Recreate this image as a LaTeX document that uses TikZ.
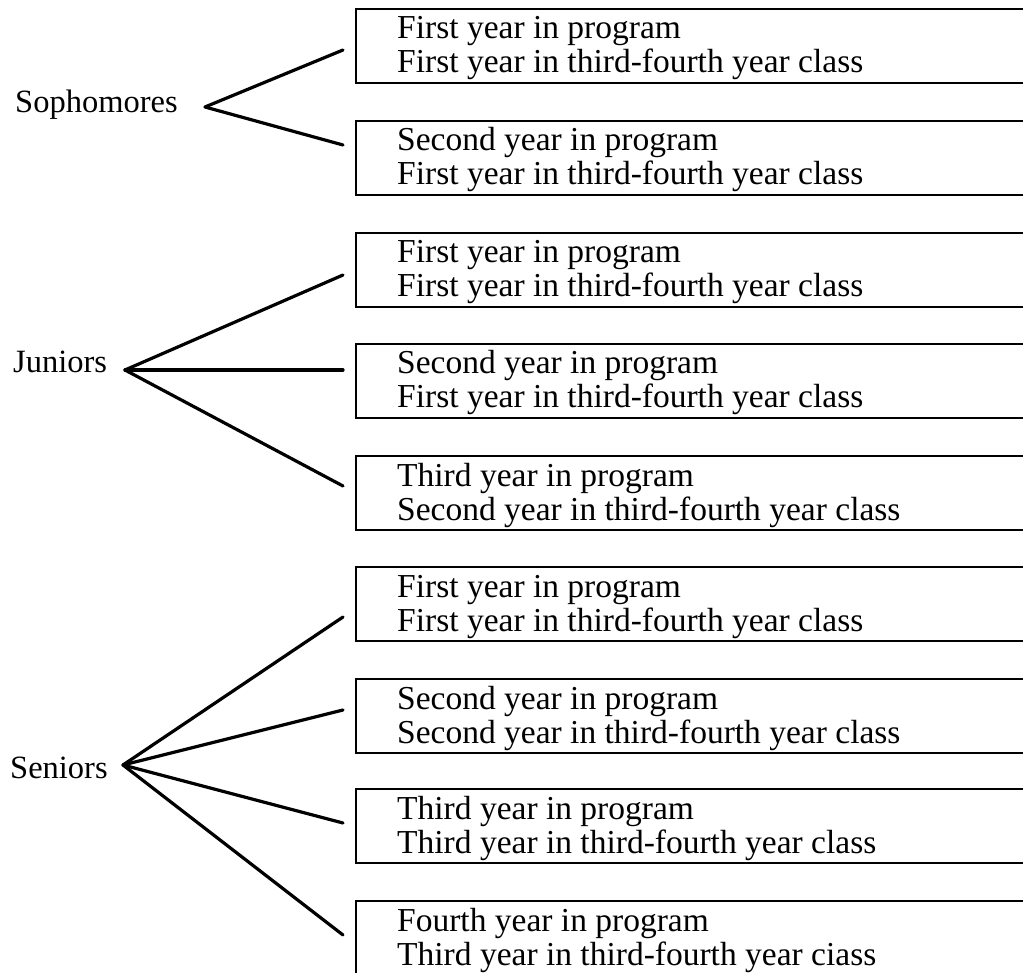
\documentclass[tikz,border=0pt]{standalone}
\usepackage{fontspec}
\setmainfont{Liberation Serif}
\usetikzlibrary{calc}

% two stacked lines, reference point on the first baseline
\newcommand\twolines[2]{\vtop{\baselineskip=34pt\hbox{#1}\hbox{#2}}}

\tikzset{
  yearbox/.style={draw, line width=1.8pt, anchor=north west, inner sep=0pt,
                  minimum width=720pt, minimum height=74pt},
  boxtext/.style={anchor=base west, inner sep=0pt},
  grouplabel/.style={anchor=base west, inner sep=0pt,
                     font=\fontsize{32.5}{34}\selectfont},
  fork/.style={line width=3.2pt, line cap=round, line join=round},
}

\begin{document}
\begin{tikzpicture}[x=1pt, y=-1pt, font=\fontsize{33.5}{34}\selectfont]
\useasboundingbox (0,0) rectangle (1023,973);

% ---- boxes ----
\node[yearbox] (b1) at (355,8)   {};
\node[yearbox] (b2) at (355,120) {};
\node[yearbox] (b3) at (355,232) {};
\node[yearbox] (b4) at (355,343) {};
\node[yearbox] (b5) at (355,455) {};
\node[yearbox] (b6) at (355,566) {};
\node[yearbox] (b7) at (355,678) {};
\node[yearbox] (b8) at (355,788) {};
\node[yearbox] (b9) at (355,900) {};

% ---- box contents ----
\node[boxtext] (t1) at ($(b1.north west)+(42,31)$) {\twolines{First year in program}{First year in third-fourth year class}};
\node[boxtext] (t2) at ($(b2.north west)+(42,31)$) {\twolines{Second year in program}{First year in third-fourth year class}};
\node[boxtext] (t3) at ($(b3.north west)+(42,31)$) {\twolines{First year in program}{First year in third-fourth year class}};
\node[boxtext] (t4) at ($(b4.north west)+(42,31)$) {\twolines{Second year in program}{First year in third-fourth year class}};
\node[boxtext] (t5) at ($(b5.north west)+(42,31)$) {\twolines{Third year in program}{Second year in third-fourth year class}};
\node[boxtext] (t6) at ($(b6.north west)+(42,31)$) {\twolines{First year in program}{First year in third-fourth year class}};
\node[boxtext] (t7) at ($(b7.north west)+(42,31)$) {\twolines{Second year in program}{Second year in third-fourth year class}};
\node[boxtext] (t8) at ($(b8.north west)+(42,31)$) {\twolines{Third year in program}{Third year in third-fourth year class}};
\node[boxtext] (t9) at ($(b9.north west)+(42,31)$) {\twolines{Fourth year in program}{Third year in third-fourth year ciass}};

% ---- group labels ----
\node[grouplabel] (soph) at (15,113) {Sophomores};
\node[grouplabel] (jun)  at (13,373) {Juniors};
\node[grouplabel] (sen)  at (10,778) {Seniors};

% ---- fork points ----
\coordinate (sophfork) at (205,107);
\coordinate (junfork)  at (125,370);
\coordinate (senfork)  at (123,765);

% ---- connectors ----
\draw[fork] (sophfork) -- ($(b1.north west)+(-12,42)$);
\draw[fork] (sophfork) -- ($(b2.north west)+(-12,25)$);

\draw[fork] (junfork) -- ($(b3.north west)+(-12,43)$);
\draw[fork] (junfork) -- ($(b4.north west)+(-12,27)$);
\draw[fork] (junfork) -- ($(b5.north west)+(-12,31)$);

\draw[fork] (senfork) -- ($(b6.north west)+(-12,51)$);
\draw[fork] (senfork) -- ($(b7.north west)+(-12,32)$);
\draw[fork] (senfork) -- ($(b8.north west)+(-12,35)$);
\draw[fork] (senfork) -- ($(b9.north west)+(-12,35)$);
\end{tikzpicture}
\end{document}
